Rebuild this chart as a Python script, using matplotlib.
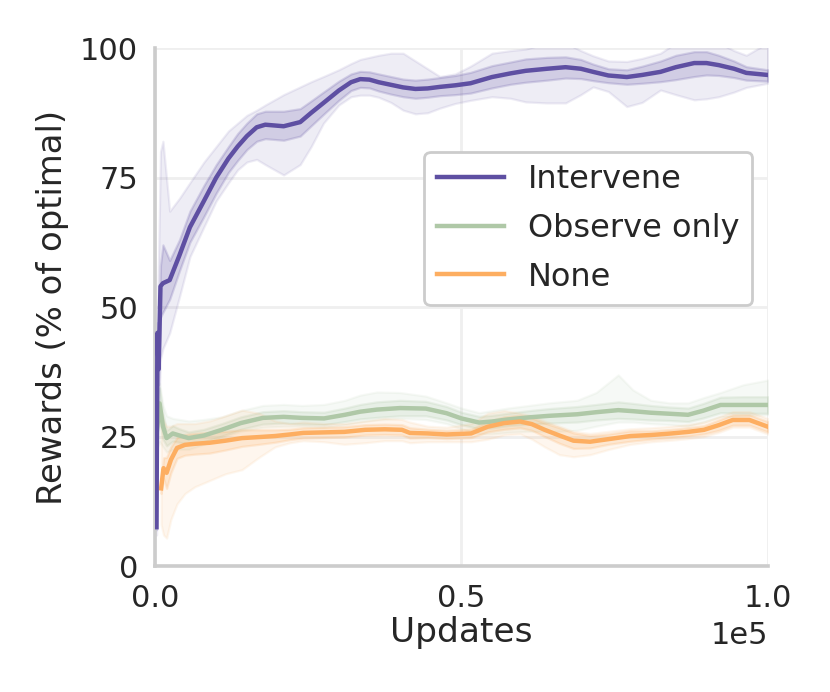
import numpy as np
import matplotlib
import matplotlib.pyplot as plt

matplotlib.use('Agg')

# x positions are in thousands of updates
intervene_x = [0.25, 0.4, 0.6, 0.9, 1.3, 2.4, 4, 5.7, 8, 10, 12, 13.5, 15, 16.6, 18, 21, 23.7, 25.5, 27.5, 30,
               32, 33.5, 35, 36.5, 38.5, 40.5, 42.5, 44.5, 46.5, 49, 51.5, 55, 58, 60.5, 64, 67, 69.5, 71.5,
               74, 77, 79.5, 82.5, 85, 88, 90, 92, 94.5, 96.5, 100]
intervene_mean = [7.5, 45, 38, 54, 54.6, 55.2, 60, 65.4, 70.5, 75, 78.7, 81, 83, 84.7, 85.2, 84.9, 85.7, 87.5,
                  89.4, 91.8, 93.4, 94, 93.9, 93.4, 92.9, 92.4, 92.1, 92.2, 92.5, 92.8, 93.2, 94.4, 95.1, 95.6,
                  96, 96.3, 96, 95.4, 94.7, 94.4, 94.8, 95.4, 96.3, 97.1, 97.1, 96.7, 96, 95.2, 94.8]
intervene_inner_hi = [8, 47, 42, 58, 62, 59, 63, 68.5, 73.5, 77.5, 81, 83.5, 85.5, 87.3, 87.8, 87.8, 88.3, 89.8,
                      91.5, 93.6, 95, 95.5, 95.4, 95, 94.5, 94, 93.8, 94, 94.3, 94.7, 95.3, 96.6, 97.3, 97.9,
                      98.2, 98.3, 97.8, 96.9, 96, 95.8, 96.5, 97.5, 98.6, 99.3, 99.3, 98.6, 97.5, 96.4, 95.8]
intervene_inner_lo = [7, 43, 35, 48, 49, 51.5, 57, 62.5, 67.5, 72, 76, 78.3, 80.4, 82, 82.5, 82.2, 83, 85, 87.2,
                      89.9, 91.8, 92.4, 92.3, 91.7, 91.1, 90.6, 90.3, 90.5, 90.8, 91, 91.3, 92.3, 93, 93.4, 93.8,
                      94.2, 94.1, 93.7, 93.3, 93, 93.2, 93.5, 93.9, 94.5, 94.8, 94.7, 94.3, 93.8, 93.6]
intervene_outer_hi = [9, 50, 60, 80, 82, 68.5, 71, 74, 78, 81, 84, 85.5, 87, 88, 89, 91, 92.5, 93.5, 94.5, 95.8,
                      97, 97.8, 98.2, 98.6, 99, 99, 97.5, 96, 94.5, 95, 96.5, 99, 99.5, 99.8, 101, 101, 99.5,
                      98.5, 97.5, 97.4, 98, 99, 101, 101, 101, 101, 99.5, 98.6, 101]
intervene_outer_lo = [6, 38, 30, 40, 42, 45, 52, 59.7, 65.5, 70.5, 74, 76.5, 78, 78.5, 77.5, 75.5, 77.5, 81, 85.5,
                      89, 90.6, 90.9, 90.9, 90.5, 89.5, 88, 87.3, 87.5, 88.4, 89.3, 89.9, 90.6, 90.3, 89.6, 89.4,
                      89.4, 91, 92.5, 91.6, 88.7, 89.5, 91.9, 91, 90, 90.2, 90.6, 91.5, 92.4, 93.2]

observe_x = [0.1, 0.4, 0.75, 1.3, 1.9, 2.9, 4, 5.5, 8, 10.9, 14, 17.6, 21, 24, 27.6, 31, 33.5, 36.2, 40, 44.2,
             47.6, 50, 52.9, 55, 57.6, 61, 64.3, 68.9, 72, 75.6, 78, 80.9, 84, 87, 89.5, 92.3, 96, 100]
observe_mean = [24.3, 27, 31.4, 27, 24.7, 25.6, 25.2, 24.7, 25.2, 26.3, 27.6, 28.6, 28.8, 28.6, 28.5, 29.2, 29.8,
                30.2, 30.5, 30.4, 29.5, 28.5, 27.7, 27.9, 28.3, 28.7, 29, 29.3, 29.7, 30.1, 29.9, 29.6, 29.4,
                29.2, 30, 31.1, 31.1, 31.1]
observe_inner = [1, 2, 3, 2.5, 1.5, 1.5, 1.3, 1.2, 1.2, 1.2, 1.2, 1.2, 1.2, 1.2, 1.2, 1.3, 1.4, 1.5, 1.5, 1.4,
                 1.3, 1.2, 1.2, 1.2, 1.2, 1.3, 1.4, 1.5, 1.5, 1.6, 1.5, 1.4, 1.3, 1.3, 1.4, 1.5, 1.6, 1.6]
observe_outer_hi = [26, 33, 35.3, 31, 29, 28.5, 28.3, 28, 28.3, 28.8, 30, 31, 31.2, 31, 31.2, 32, 33, 33.6, 33.5,
                    32.8, 31.5, 30.5, 29.6, 30, 30.5, 31, 31.5, 32, 33.5, 36.9, 34, 32, 31.5, 31.5, 32.5, 33.5,
                    35, 35.9]
observe_outer_lo = [22, 23, 24, 23, 22, 22.5, 22.5, 22.5, 23.5, 24.8, 26, 26.8, 27, 27, 26.8, 27.3, 27.8, 28.2,
                    28.5, 28.3, 27.5, 26.5, 25.5, 25.5, 25.8, 26, 25.9, 26.2, 27, 27.8, 27.8, 27.5, 27.3, 27,
                    27.8, 28.8, 29, 29.2]

none_x = [1.0, 1.4, 1.9, 2.6, 3.6, 4.9, 6.5, 8.9, 11.5, 14.2, 17, 19.6, 22, 24.2, 27.5, 30.9, 34.3, 37.5, 40.3,
          41.6, 44.5, 47.6, 51.6, 54.3, 57, 59.6, 61.5, 63.6, 66, 68.3, 71, 74, 77.6, 81, 84.3, 87, 89.6, 92,
          94.3, 97, 100]
none_mean = [15, 18.9, 18, 20.5, 22.8, 23.4, 23.6, 23.8, 24.2, 24.7, 24.9, 25.1, 25.4, 25.7, 25.8, 25.9, 26.3,
             26.4, 26.3, 25.7, 25.6, 25.4, 25.6, 26.9, 27.6, 27.9, 27.4, 26.3, 25.2, 24.2, 24, 24.5, 25.1, 25.3,
             25.6, 25.9, 26.3, 27.2, 28.2, 28.2, 26.9]
none_inner = [1, 2, 3, 2.5, 2, 2, 2, 2, 1.8, 1.6, 1.4, 1.2, 1, 1, 1, 1, 1, 1, 1, 1, 0.8, 0.8, 0.8, 1, 1.2, 1.2,
              1.2, 1.3, 1.5, 1.5, 1.2, 1, 1, 0.8, 0.8, 0.8, 0.8, 1, 1, 1, 1]
none_outer_hi = [30, 28, 27, 27, 27.5, 27.5, 27.5, 28, 29, 30.1, 29.5, 28, 27.5, 27.8, 27.5, 27.5, 28, 28.5, 28.3,
                 27.8, 27, 26.8, 27.5, 29.5, 30, 29.5, 29, 28, 27, 26, 25.6, 26, 26.5, 26.7, 27, 27.3, 27.8,
                 28.8, 29.8, 29.8, 28.5]
none_outer_lo = [8, 6, 5.4, 9, 12, 14, 15.3, 16.5, 17.8, 18.6, 21, 23, 23.8, 24.2, 24, 23.5, 23.8, 24.2, 24.2,
                 23.8, 24, 24, 24, 24.5, 25.3, 25.5, 24.5, 23, 21.5, 21.1, 21.5, 22.5, 23.5, 24, 24.3, 24.6, 25,
                 25.8, 26.8, 26.8, 25.5]

labels = ['Intervene', 'Observe only', 'None']
colors = ['#5e4fa2', '#afc8a7', '#fdae61']

plt.rcParams['font.family'] = 'DejaVu Sans'
plt.rcParams['font.size'] = 11
plt.rcParams['text.color'] = '#262626'
plt.rcParams['axes.labelcolor'] = '#262626'
plt.rcParams['xtick.color'] = '#262626'
plt.rcParams['ytick.color'] = '#262626'


def draw_series(ax, x, mean, inner_lo, inner_hi, outer_lo, outer_hi, color, label):
    x = np.asarray(x) * 1000
    ax.fill_between(x, outer_lo, outer_hi, facecolor=color, edgecolor=color, linewidth=0.8, alpha=0.1)
    ax.fill_between(x, inner_lo, inner_hi, facecolor=color, edgecolor=color, linewidth=0.8, alpha=0.2)
    return ax.plot(x, mean, color=color, linewidth=1.6, label=label, zorder=3,
                   solid_joinstyle='round')[0]


fig = plt.figure(figsize=(4.15, 3.46), dpi=200)
ax = fig.add_axes([0.1867, 0.182, 0.7383, 0.7486])

om = np.asarray(observe_mean)
oi = np.asarray(observe_inner)
nm = np.asarray(none_mean)
ni = np.asarray(none_inner)

h_obs = draw_series(ax, observe_x, om, om - oi, om + oi, observe_outer_lo, observe_outer_hi, colors[1], labels[1])
h_none = draw_series(ax, none_x, nm, nm - ni, nm + ni, none_outer_lo, none_outer_hi, colors[2], labels[2])
h_int = draw_series(ax, intervene_x, intervene_mean, intervene_inner_lo, intervene_inner_hi,
                    intervene_outer_lo, intervene_outer_hi, colors[0], labels[0])

ax.set_xlim(0, 100000)
ax.set_ylim(0, 100)
ax.set_xticks([0, 50000, 100000])
ax.set_yticks([0, 25, 50, 75, 100])
ax.ticklabel_format(axis='x', style='sci', scilimits=(0, 0))
ax.xaxis.get_offset_text().set_fontsize(11)

ax.grid(True, color='#efefef', linewidth=1.0)
ax.set_axisbelow(True)
for side in ['top', 'right']:
    ax.spines[side].set_visible(False)
for side in ['left', 'bottom']:
    ax.spines[side].set_color('#cccccc')
    ax.spines[side].set_linewidth(1.3)
ax.tick_params(axis='both', length=0)
ax.tick_params(axis='x', pad=6.5)
ax.tick_params(axis='y', pad=6)

ax.set_xlabel('Updates', fontsize=12.4, labelpad=1)
ax.set_ylabel('Rewards (% of optimal)', fontsize=12.2, labelpad=4)

leg = ax.legend(handles=[h_int, h_obs, h_none], loc='upper right', bbox_to_anchor=(0.975, 0.8),
                borderaxespad=0, frameon=True, fancybox=True, fontsize=11.5, handlelength=2.1,
                handletextpad=0.75, labelspacing=0.55)
leg.get_frame().set_edgecolor('#cccccc')
leg.get_frame().set_linewidth(1.0)
leg.get_frame().set_alpha(1.0)

fig.savefig('out.png', dpi=200)
